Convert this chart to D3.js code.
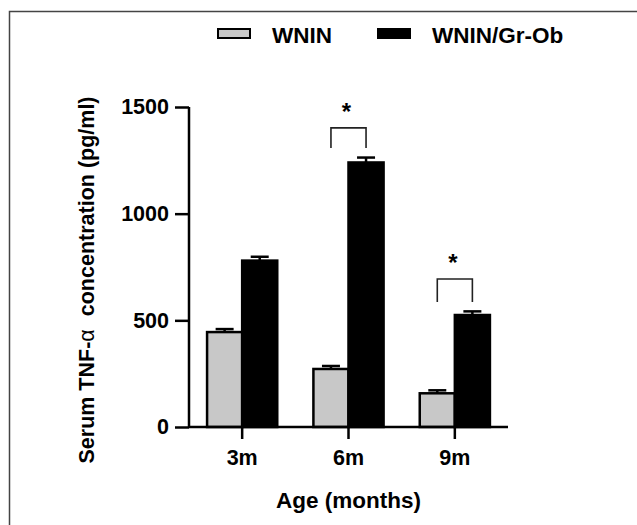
<!DOCTYPE html>
<html>
<head>
<meta charset="utf-8">
<script src="https://cdn.jsdelivr.net/npm/d3@7"></script>
<style>
    body { margin: 0; background: #fff; }
    svg { display: block; font-family: "Liberation Sans", Arial, sans-serif; }
</style>
</head>
<body>
<svg id="canvas"></svg>
<script>
let ages = ['3m', '6m', '9m'];
let groups = ['WNIN', 'WNIN/Gr-Ob'];
let wninValues = [445, 272, 158];
let wninErrors = [14, 14, 14];
let obValues = [780, 1240, 525];
let obErrors = [18, 23, 17];
let yTicks = [0, 500, 1000, 1500];
// significance brackets: age, bracket top, leg bottom (pg/ml)
let sigAges = ['6m', '9m'];
let sigTops = [1402, 694];
let sigLegs = [1308, 586];

let width = 637;
let height = 525;
let colors = { 'WNIN': '#c8c8c8', 'WNIN/Gr-Ob': '#000000' };

let canvas = d3.select('#canvas');
canvas.attr('width', width);
canvas.attr('height', height);

// frame (top and left edge only)
canvas.append('path')
      .attr('d', 'M9.5,' + height + ' V11.5 H' + width)
      .attr('fill', 'none')
      .attr('stroke', '#444')
      .attr('stroke-width', 1.5);

let xScale = d3.scaleBand()
               .domain(ages)
               .range([189, 508])
               .paddingInner(0.34)
               .paddingOuter(0.17);

let subScale = d3.scaleBand()
                 .domain(groups)
                 .range([0, xScale.bandwidth()]);

let yScale = d3.scaleLinear()
               .domain([0, 1500])
               .range([427, 107]);

let rows = [];
ages.forEach((age, i) => {
    rows.push({ age: age, group: 'WNIN', value: wninValues[i], err: wninErrors[i] });
    rows.push({ age: age, group: 'WNIN/Gr-Ob', value: obValues[i], err: obErrors[i] });
});

let barX = (d) => xScale(d.age) + subScale(d.group);
let barMid = (d) => barX(d) + subScale.bandwidth() / 2;

// error bars (upper only)
let errs = canvas.append('g')
                 .attr('stroke', '#000')
                 .attr('stroke-width', 2.5);
errs.selectAll('line.stem')
    .data(rows)
    .enter()
    .append('line')
    .attr('class', 'stem')
    .attr('x1', barMid)
    .attr('x2', barMid)
    .attr('y1', (d) => yScale(d.value))
    .attr('y2', (d) => yScale(d.value + d.err));
errs.selectAll('line.cap')
    .data(rows)
    .enter()
    .append('line')
    .attr('class', 'cap')
    .attr('x1', (d) => barMid(d) - 9)
    .attr('x2', (d) => barMid(d) + 9)
    .attr('y1', (d) => yScale(d.value + d.err))
    .attr('y2', (d) => yScale(d.value + d.err));

canvas.selectAll('rect.bar')
      .data(rows)
      .enter()
      .append('rect')
      .attr('class', 'bar')
      .attr('x', barX)
      .attr('width', subScale.bandwidth())
      .attr('y', (d) => yScale(d.value))
      .attr('height', (d) => yScale(0) - yScale(d.value))
      .attr('fill', (d) => colors[d.group])
      .attr('stroke', '#000')
      .attr('stroke-width', 2.5);

// axes
let yAxis = d3.axisLeft(yScale)
              .tickValues(yTicks)
              .tickSize(14)
              .tickPadding(6)
              .tickFormat(d3.format('d'));

let xAxis = d3.axisBottom(xScale)
              .tickSize(12)
              .tickPadding(11);

let yG = canvas.append('g')
               .attr('id', 'y-axis')
               .attr('transform', 'translate(189, 0)')
               .call(yAxis);

let xG = canvas.append('g')
               .attr('id', 'x-axis')
               .attr('transform', 'translate(0, 427)')
               .call(xAxis);

[yG, xG].forEach((g) => {
    g.select('.domain')
     .attr('stroke', '#000')
     .attr('stroke-width', 2.5);
    g.selectAll('.tick line')
     .attr('stroke', '#000')
     .attr('stroke-width', 2.5);
    g.selectAll('.tick text')
     .attr('fill', '#000')
     .style('font-size', '21.5px')
     .style('font-weight', 'bold')
     .style('font-family', '"Liberation Sans", Arial, sans-serif');
});
yG.select('.domain').attr('d', 'M0,' + yScale(1500) + 'V' + yScale(0));
xG.select('.domain').attr('d', 'M189,0H508');

// significance brackets
sigAges.forEach((age, i) => {
    let x1 = xScale(age) + subScale('WNIN') + subScale.bandwidth() / 2;
    let x2 = xScale(age) + subScale('WNIN/Gr-Ob') + subScale.bandwidth() / 2;
    let top = yScale(sigTops[i]);
    let leg = yScale(sigLegs[i]);
    canvas.append('path')
          .attr('d', 'M' + x1 + ',' + leg + 'V' + top + 'H' + x2 + 'V' + leg)
          .attr('fill', 'none')
          .attr('stroke', '#222')
          .attr('stroke-width', 1.6);
    canvas.append('text')
          .attr('x', (x1 + x2) / 2 - 2)
          .attr('y', top - 8)
          .attr('text-anchor', 'middle')
          .style('font-size', '24px')
          .style('font-weight', 'bold')
          .text('*');
});

// axis titles
canvas.append('text')
      .attr('transform', 'translate(94, 280) rotate(-90)')
      .attr('text-anchor', 'middle')
      .style('font-size', '21.5px')
      .style('font-weight', 'bold')
      .call((t) => {
          t.append('tspan').text('Serum TNF-');
          t.append('tspan').style('font-weight', 'normal').text('\u03b1');
          t.append('tspan').attr('dx', 13).text('concentration (pg/ml)');
      });

canvas.append('text')
      .attr('x', 348.5)
      .attr('y', 508)
      .attr('text-anchor', 'middle')
      .style('font-size', '22.5px')
      .style('font-weight', 'bold')
      .text('Age (months)');

// legend
let legendX = [218, 378];
let legendTextX = [272, 432];
groups.forEach((g, i) => {
    canvas.append('rect')
          .attr('x', legendX[i])
          .attr('y', 29)
          .attr('width', 32)
          .attr('height', 9)
          .attr('fill', colors[g])
          .attr('stroke', '#000')
          .attr('stroke-width', 2);
    canvas.append('text')
          .attr('x', legendTextX[i])
          .attr('y', 43)
          .style('font-size', '22.5px')
          .style('font-weight', 'bold')
          .text(g);
});
</script>
</body>
</html>
